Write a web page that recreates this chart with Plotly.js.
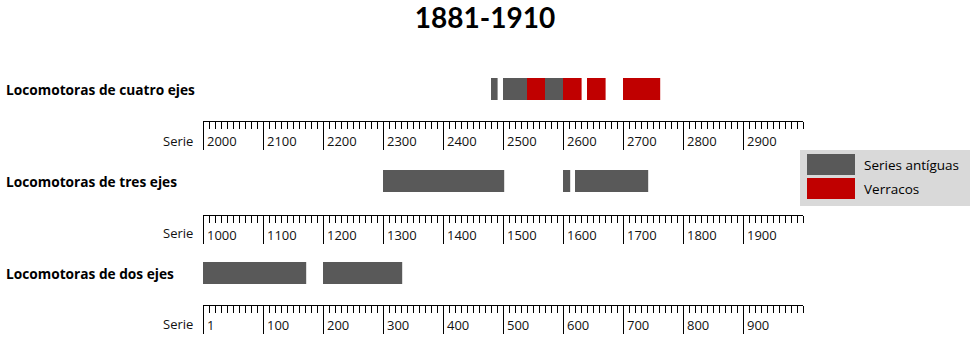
<!DOCTYPE html>
<html>
<head>
<meta charset="utf-8">
<script src="https://cdn.plot.ly/plotly-3.0.1.min.js"></script>
<style>
  html, body { margin: 0; padding: 0; background: #fff; }
  #chart { width: 970px; height: 354px; }
</style>
</head>
<body>
<div id="chart"></div>
<script>
// Numeración de series por tipo de locomotora, 1881-1910
const filas = ["Locomotoras de cuatro ejes", "Locomotoras de tres ejes", "Locomotoras de dos ejes"];
const grupos = ["Series antíguas", "Verracos"];

// Cuatro ejes
const cuatroAntiguasDesde = [2480, 2500, 2570];
const cuatroAntiguasHasta = [2491, 2540, 2600];
const cuatroVerracosDesde = [2540, 2600, 2640, 2700];
const cuatroVerracosHasta = [2570, 2631, 2671, 2762];

// Tres ejes
const tresAntiguasDesde = [1300, 1600, 1620];
const tresAntiguasHasta = [1502, 1612, 1742];

// Dos ejes
const dosAntiguasDesde = [0, 200];
const dosAntiguasHasta = [172, 332];

// Escalas de numeración
const escalaCuatro = [2000, 3000];
const escalaTres = [1000, 2000];
const escalaDos = [0, 1000];
const marcasCuatro = [2000, 2100, 2200, 2300, 2400, 2500, 2600, 2700, 2800, 2900];
const marcasTres = [1000, 1100, 1200, 1300, 1400, 1500, 1600, 1700, 1800, 1900];
const marcasDos = [0, 100, 200, 300, 400, 500, 600, 700, 800, 900];
const textosDos = ["1", "100", "200", "300", "400", "500", "600", "700", "800", "900"];

const GRIS = "#595959";
const ROJO = "#C00000";
const FUENTE = "'Open Sans', Lato, 'Liberation Sans', sans-serif";
const FUENTE_TITULO = "Lato, 'Open Sans', sans-serif";

const W = 970, H = 354;
const px = v => v / W;
const py = v => 1 - v / H;

// Vertical bands (pixels): axis line at the bottom, bar centred in the band
const bandas = [
  { top: 57, bottom: 121 },
  { top: 147, bottom: 215 },
  { top: 241, bottom: 305 }
];
const ALTO_BARRA = 22;
const anchoBarra = b => 2 * ALTO_BARRA / (b.bottom - b.top);

function tramo(desde, hasta, nombre, color, eje, banda) {
  return {
    type: "bar",
    orientation: "h",
    name: nombre,
    legendgroup: nombre,
    showlegend: false,
    y: desde.map(() => 0),
    base: desde,
    x: desde.map((d, i) => hasta[i] - d),
    width: anchoBarra(banda),
    marker: { color: color, line: { width: 0 } },
    xaxis: "x" + eje,
    yaxis: "y" + eje,
    hoverinfo: "skip"
  };
}

const datos = [
  tramo(cuatroAntiguasDesde, cuatroAntiguasHasta, grupos[0], GRIS, "", bandas[0]),
  tramo(cuatroVerracosDesde, cuatroVerracosHasta, grupos[1], ROJO, "", bandas[0]),
  tramo(tresAntiguasDesde, tresAntiguasHasta, grupos[0], GRIS, "2", bandas[1]),
  tramo(dosAntiguasDesde, dosAntiguasHasta, grupos[0], GRIS, "3", bandas[2])
];

function ejeX(rango, marcas, textos, anclaY) {
  return {
    domain: [px(203), px(803)],
    range: rango,
    anchor: anclaY,
    fixedrange: true,
    showgrid: false,
    zeroline: false,
    showline: true,
    linecolor: "#000",
    linewidth: 1,
    tickmode: "array",
    tickvals: marcas,
    ticktext: textos || marcas.map(String),
    ticks: "outside",
    ticklen: 28,
    tickwidth: 1,
    tickcolor: "#000",
    ticklabelposition: "outside right",
    ticklabelstandoff: 8,
    ticklabelshift: 3,
    tickfont: { family: FUENTE, size: 13, color: "#111" },
    minor: {
      tickmode: "linear",
      tick0: rango[0],
      dtick: 10,
      ticks: "outside",
      ticklen: 7,
      tickwidth: 1,
      tickcolor: "#000",
      showgrid: false
    }
  };
}

function ejeY(banda) {
  return {
    domain: [py(banda.bottom), py(banda.top)],
    range: [-1, 1],
    visible: false,
    fixedrange: true
  };
}

const anotaciones = [];
const centros = [89, 181, 273];
const seriesY = [141, 233, 324];
filas.forEach((f, i) => {
  anotaciones.push({
    xref: "paper", yref: "paper", x: px(4), y: py(centros[i]),
    xanchor: "left", yanchor: "middle", showarrow: false,
    text: "<b>" + f + "</b>",
    font: { family: FUENTE, size: 13.7, color: "#000" }
  });
  anotaciones.push({
    xref: "paper", yref: "paper", x: px(195), y: py(seriesY[i]),
    xanchor: "right", yanchor: "middle", showarrow: false,
    text: "Serie",
    font: { family: FUENTE, size: 13, color: "#111" }
  });
});

// Leyenda
const formas = [
  { type: "rect", xref: "paper", yref: "paper", x0: px(800), x1: 1, y0: py(206), y1: py(150),
    fillcolor: "#D9D9D9", line: { width: 0 }, layer: "above" },
  { type: "rect", xref: "paper", yref: "paper", x0: px(807), x1: px(855), y0: py(175), y1: py(154),
    fillcolor: GRIS, line: { width: 0 }, layer: "above" },
  { type: "rect", xref: "paper", yref: "paper", x0: px(807), x1: px(855), y0: py(199), y1: py(178),
    fillcolor: ROJO, line: { width: 0 }, layer: "above" }
];
[165, 189].forEach((yy, i) => {
  anotaciones.push({
    xref: "paper", yref: "paper", x: px(862), y: py(yy),
    xanchor: "left", yanchor: "middle", showarrow: false,
    text: grupos[i],
    font: { family: FUENTE, size: 13.5, color: "#000" }
  });
});

const layout = {
  width: W,
  height: H,
  margin: { l: 0, r: 0, t: 0, b: 0, pad: 0 },
  paper_bgcolor: "#fff",
  plot_bgcolor: "rgba(0,0,0,0)",
  showlegend: false,
  barmode: "overlay",
  title: {
    text: "<b>1881-1910</b>",
    x: 0.5, xanchor: "center",
    y: py(18), yanchor: "middle", yref: "paper",
    font: { family: FUENTE_TITULO, size: 28, color: "#000" }
  },
  xaxis: ejeX(escalaCuatro, marcasCuatro, null, "y"),
  yaxis: ejeY(bandas[0]),
  xaxis2: ejeX(escalaTres, marcasTres, null, "y2"),
  yaxis2: ejeY(bandas[1]),
  xaxis3: ejeX(escalaDos, marcasDos, textosDos, "y3"),
  yaxis3: ejeY(bandas[2]),
  shapes: formas,
  annotations: anotaciones
};

Plotly.newPlot("chart", datos, layout, { displayModeBar: false, staticPlot: true });
</script>
</body>
</html>
